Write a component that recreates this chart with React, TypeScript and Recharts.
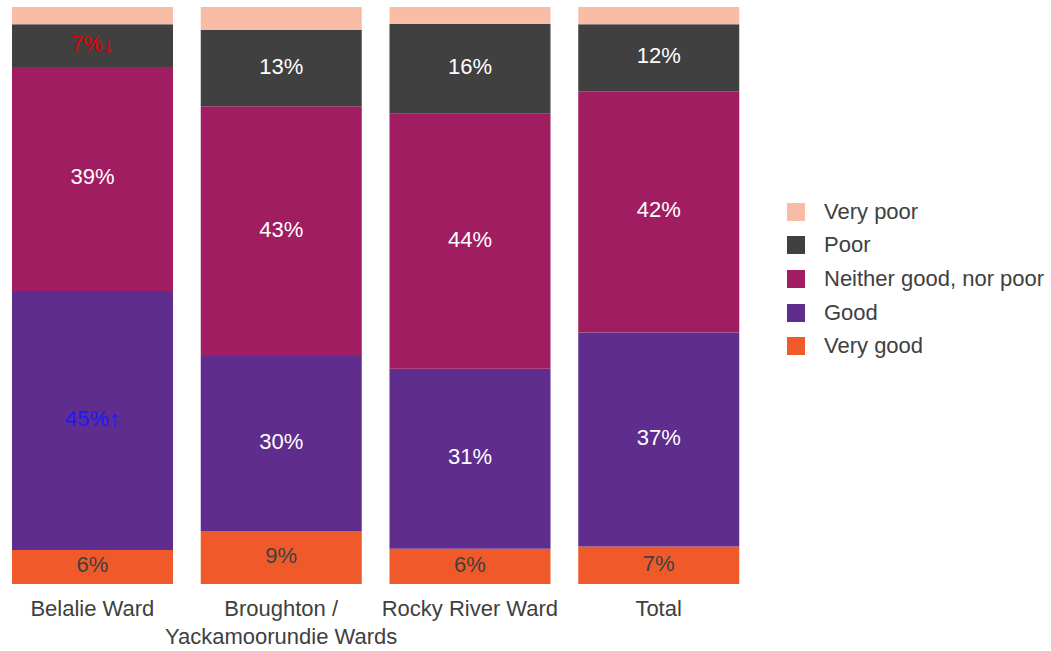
import { BarChart, Bar, XAxis, YAxis, Legend, LabelList } from "recharts";

const wards = ["Belalie Ward", "Broughton /\nYackamoorundie Wards", "Rocky River Ward", "Total"];

// shares in %, bottom of the stack first
const veryGood = [5.9, 9.2, 6.1, 6.5];
const good = [44.9, 30.3, 31.2, 37.1];
const neither = [38.8, 43.3, 44.2, 41.8];
const poor = [7.4, 13.2, 15.6, 11.6];
const veryPoor = [3.0, 4.0, 2.9, 3.0];

// significance flags: 1 = significantly higher, -1 = significantly lower
const goodSig = [1, 0, 0, 0];
const poorSig = [-1, 0, 0, 0];

const FONT = "'Liberation Sans', Arial, sans-serif";

const data = wards.map((w, i) => ({
  ward: w,
  veryGood: veryGood[i],
  good: good[i],
  neither: neither[i],
  poor: poor[i],
  veryPoor: veryPoor[i],
}));

type Series = {
  key: string;
  name: string;
  color: string;
  text: string;
  label: boolean;
  sig?: number[];
};

const series: Series[] = [
  { key: "veryGood", name: "Very good", color: "#F05A2B", text: "#404040", label: true },
  { key: "good", name: "Good", color: "#5E2D8E", text: "#ffffff", label: true, sig: goodSig },
  { key: "neither", name: "Neither good, nor poor", color: "#A11D62", text: "#ffffff", label: true },
  { key: "poor", name: "Poor", color: "#404040", text: "#ffffff", label: true, sig: poorSig },
  { key: "veryPoor", name: "Very poor", color: "#F9BDA7", text: "#404040", label: false },
];

const makeLabel = (s: Series) => (props: any) => {
  const { x, y, width, height, value, index } = props;
  const flag = s.sig ? s.sig[index] : 0;
  const fill = flag > 0 ? "#1a1aff" : flag < 0 ? "#e00000" : s.text;
  return (
    <text
      x={x + width / 2}
      y={y + height / 2 - 2}
      textAnchor="middle"
      dominantBaseline="central"
      fill={fill}
      fontSize={22}
      fontFamily={FONT}
    >
      {Math.round(value)}%
      {flag !== 0 && <tspan fontSize={22}>{flag > 0 ? "↑" : "↓"}</tspan>}
    </text>
  );
};

const WardTick = ({ x, y, payload }: any) => {
  const lines = String(payload.value).split("\n");
  return (
    <text x={x} y={y} textAnchor="middle" fill="#404040" fontSize={22} fontFamily={FONT}>
      {lines.map((l, i) => (
        <tspan key={i} x={x} dy={i === 0 ? 24 : 28}>
          {l}
        </tspan>
      ))}
    </text>
  );
};

const renderLegend = () => (
  <div style={{ fontFamily: FONT, fontSize: 22, color: "#404040" }}>
    {[...series].reverse().map((s) => (
      <div key={s.key} style={{ display: "flex", alignItems: "center", height: 33.6, whiteSpace: "nowrap" }}>
        <span style={{ width: 18, height: 18, background: s.color, display: "inline-block", marginRight: 19, flexShrink: 0 }} />
        <span>{s.name}</span>
      </div>
    ))}
  </div>
);

export default function App() {
  return (
    <div style={{ position: "fixed", left: 0, top: 0, width: 1051, height: 651, background: "#fff", overflow: "hidden" }}>
      <BarChart
        width={1051}
        height={651}
        data={data}
        margin={{ top: 7, right: 298, bottom: 7, left: -2 }}
      >
        <XAxis dataKey="ward" axisLine={false} tickLine={false} height={60} interval={0} tick={<WardTick />} />
        <YAxis hide domain={[0, 100]} />
        <Legend
          layout="vertical"
          align="center"
          verticalAlign="middle"
          wrapperStyle={{ left: 787, top: 195, width: 264 }}
          content={renderLegend}
        />
        {series.map((s) => (
          <Bar key={s.key} dataKey={s.key} name={s.name} stackId="a" fill={s.color} barSize={161} isAnimationActive={false}>
            {s.label && <LabelList dataKey={s.key} content={makeLabel(s)} />}
          </Bar>
        ))}
      </BarChart>
    </div>
  );
}
